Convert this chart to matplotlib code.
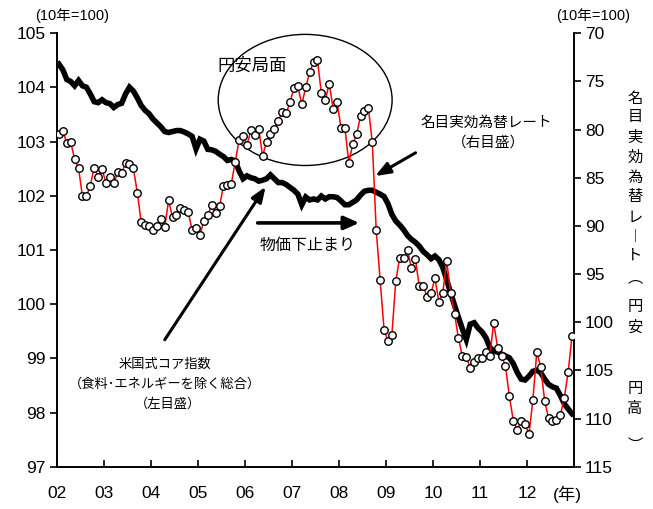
import numpy as np
import matplotlib
matplotlib.use("Agg")
import matplotlib.pyplot as plt
from matplotlib.patches import Ellipse
from matplotlib.transforms import ScaledTranslation

plt.rcParams['font.family'] = ['Liberation Sans', 'Noto Sans CJK JP', 'DejaVu Sans']

# monthly series, Jan 2002 - Dec 2012
start_year = 2002
n_months = 132

# US-style core CPI (excl. food & energy), 2010 = 100 (left scale)
core_cpi = [
    103.14, 103.20, 102.97, 102.99, 102.68, 102.51, 101.99, 101.99, 102.19, 102.52, 102.35, 102.49,
    102.24, 102.35, 102.23, 102.44, 102.42, 102.61, 102.59, 102.51, 102.06, 101.51, 101.47, 101.44,
    101.36, 101.44, 101.58, 101.42, 101.92, 101.60, 101.64, 101.77, 101.74, 101.70, 101.37, 101.41,
    101.27, 101.54, 101.64, 101.83, 101.69, 101.81, 102.18, 102.20, 102.22, 102.63, 103.03, 103.10,
    102.94, 103.21, 103.12, 103.24, 102.73, 103.00, 103.15, 103.24, 103.38, 103.55, 103.52, 103.73,
    103.99, 104.02, 103.69, 104.00, 104.28, 104.47, 104.50, 103.89, 103.77, 104.07, 103.61, 103.73,
    103.26, 103.26, 102.61, 102.95, 103.14, 103.47, 103.57, 103.62, 102.99, 101.37, 100.44, 99.53,
    99.32, 99.43, 100.43, 100.86, 100.86, 101.00, 100.66, 100.83, 100.33, 100.33, 100.14, 100.20,
    100.48, 100.04, 100.21, 100.80, 100.20, 99.82, 99.37, 99.04, 99.02, 98.83, 98.94, 99.01,
    99.01, 99.12, 99.04, 99.66, 99.19, 99.04, 98.86, 98.30, 97.85, 97.68, 97.84, 97.79,
    97.60, 98.23, 99.12, 98.84, 98.22, 97.90, 97.85, 97.87, 97.95, 98.26, 98.74, 99.42,
]

# nominal effective exchange rate, 2010 = 100 (right scale, inverted)
neer = [
    73.2, 73.8, 74.8, 75.0, 75.45, 74.9, 75.45, 75.6, 76.3, 77.1, 77.2, 76.9,
    77.2, 77.3, 77.7, 77.4, 77.27, 76.3, 75.6, 76.0, 76.7, 77.5, 78.0, 78.35,
    78.9, 79.3, 79.7, 80.2, 80.3, 80.2, 80.1, 80.1, 80.25, 80.45, 80.7, 82.0,
    81.0, 81.2, 82.05, 82.1, 82.25, 82.55, 82.8, 83.2, 83.1, 83.25, 84.3, 85.1,
    84.8, 85.0, 85.1, 85.35, 85.25, 85.1, 84.7, 85.1, 85.5, 85.5, 85.7, 86.0,
    86.3, 86.7, 87.8, 87.0, 87.3, 87.2, 87.3, 86.9, 87.2, 86.97, 86.97, 87.05,
    87.4, 87.8, 87.8, 87.55, 87.3, 86.8, 86.4, 86.3, 86.3, 86.5, 86.7, 86.95,
    87.7, 88.8, 89.5, 89.9, 90.4, 91.0, 91.4, 91.7, 92.1, 92.65, 93.0, 93.4,
    93.13, 93.5, 94.3, 95.6, 96.95, 98.25, 99.5, 100.7, 101.8, 100.2, 100.05, 100.6,
    101.0, 101.6, 102.6, 103.0, 103.1, 103.3, 103.5, 103.7, 104.3, 105.2, 105.9, 106.0,
    105.6, 105.1, 104.97, 105.25, 105.9, 106.45, 106.7, 106.85, 107.6, 108.45, 109.0, 109.5,
]

year_ticks = list(range(2002, 2014))
year_labels = ['02', '03', '04', '05', '06', '07', '08', '09', '10', '11', '12', '(年)']
left_ticks = list(range(97, 106))
right_ticks = list(range(70, 116, 5))

t = start_year + (np.arange(n_months) + 0.5) / 12.0

W, H = 653, 509
fig = plt.figure(figsize=(W / 100, H / 100), dpi=100)
ax = fig.add_axes([57 / W, 1 - 466.7 / H, (574 - 57) / W, (466.7 - 33.3) / H])
ax2 = ax.twinx()

# exchange rate (thick black), drawn beneath the CPI line
ax2.plot(t, neer, color='black', lw=4.0, solid_joinstyle='miter', zorder=2)
ax2.set_ylim(115, 70)
ax2.set_yticks(right_ticks)

ax.set_zorder(ax2.get_zorder() + 1)
ax.patch.set_visible(False)
ax.plot(t, core_cpi, color='#ff0000', lw=1.1, marker='o', ms=5.4,
        mfc='white', mec='black', mew=1.0, zorder=3)
ax.set_ylim(97, 105)
ax.set_yticks(left_ticks)
ax.set_xlim(2002, 2013)
ax.set_xticks(year_ticks)
ax.set_xticklabels(year_labels)

for a in (ax, ax2):
    a.spines['top'].set_visible(False)
    for s in a.spines.values():
        s.set_linewidth(1.2)
ax.tick_params(axis='y', direction='out', length=5, width=1.2, labelsize=12.5, pad=3)
ax2.tick_params(axis='y', direction='out', length=5, width=1.2, labelsize=12.5, pad=3)
ax.tick_params(axis='x', direction='in', length=5, width=1.2, labelsize=12.5, pad=14)
# the year unit sits a little left of the last tick
last = ax.get_xticklabels()[-1]
last.set_transform(last.get_transform() + ScaledTranslation(-7 / 100, 0, fig.dpi_scale_trans))

jp = dict(family=['Noto Sans CJK JP', 'Liberation Sans'])

# yen-weakening phase
ax.add_patch(Ellipse((2007.28, 103.77), 3.70, 2.42, fill=False, ec='black', lw=1.0, zorder=1))
ax.text(2006.15, 104.41, '円安局面', ha='center', va='center', fontsize=12.5, **jp)

ax.text(2011.13, 103.34, '名目実効為替レート', ha='center', va='center', fontsize=10.5, **jp)
ax.text(2011.19, 102.99, '（右目盛）', ha='center', va='center', fontsize=10.5, **jp)
ax.annotate('', xy=(2008.72, 102.34), xytext=(2009.68, 102.82),
            arrowprops=dict(arrowstyle='-|>,head_length=0.9,head_width=0.35', color='black', lw=2.2))

ax.text(2007.34, 101.09, '物価下止まり', ha='center', va='center', fontsize=11.5, **jp)
ax.annotate('', xy=(2008.49, 101.50), xytext=(2006.21, 101.50),
            arrowprops=dict(arrowstyle='-|>,head_length=0.9,head_width=0.4', color='black', lw=2.6))

ax.text(2004.30, 98.88, '米国式コア指数', ha='center', va='center', fontsize=9.5, **jp)
ax.text(2004.30, 98.52, '（食料･エネルギーを除く総合）', ha='center', va='center', fontsize=9.5, **jp)
ax.text(2004.36, 98.16, '（左目盛）', ha='center', va='center', fontsize=9.5, **jp)
ax.annotate('', xy=(2006.47, 102.21), xytext=(2004.26, 99.30),
            arrowprops=dict(arrowstyle='-|>,head_length=0.9,head_width=0.35', color='black', lw=2.2))

# units
fig.text(72 / W, 1 - 16 / H, '(10年=100)', ha='center', va='center', fontsize=10.5)
fig.text(593 / W, 1 - 16 / H, '(10年=100)', ha='center', va='center', fontsize=10.5)

# vertical right-axis title
vchars = ['名', '目', '実', '効', '為', '替', 'レ', '︱', 'ト', '︵', '円', '安', '円', '高', '︶']
vys = [98, 117, 137, 157, 177, 197, 217, 236, 255, 278, 307, 327, 388, 408, 445]
for ch, py in zip(vchars, vys):
    fig.text(635 / W, 1 - py / H, ch, ha='center', va='center', fontsize=11, **jp)

fig.savefig('out.png', dpi=100)
